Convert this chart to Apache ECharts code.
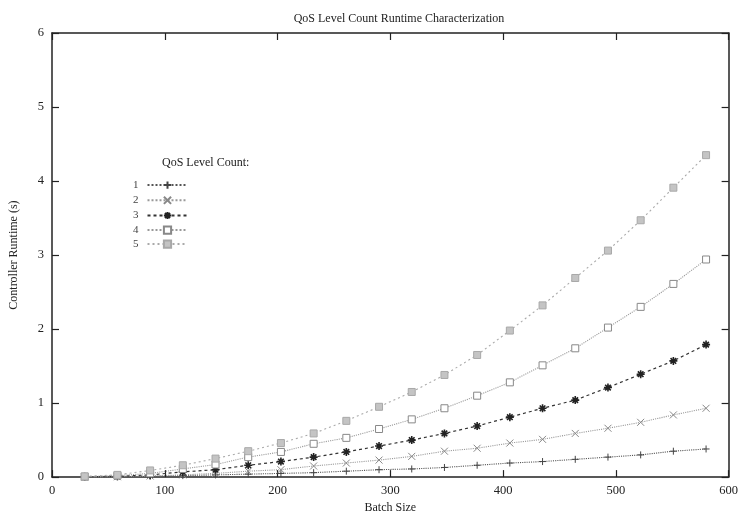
<!DOCTYPE html>
<html>
<head>
<meta charset="utf-8">
<script src="https://cdn.jsdelivr.net/npm/echarts@6/dist/echarts.min.js"></script>
<style>html,body{margin:0;padding:0;background:#fff;}#c{width:741px;height:519px;}</style>
</head>
<body>
<div id="c"></div>
<script>
const batchSizes = [29,58,87,116,145,174,203,232,261,290,319,348,377,406,435,464,493,522,551,580];
const level1 = [0.001,0.005,0.01,0.02,0.03,0.04,0.05,0.06,0.08,0.10,0.11,0.13,0.16,0.19,0.21,0.24,0.27,0.30,0.35,0.38];
const level2 = [0.002,0.005,0.015,0.03,0.05,0.08,0.10,0.15,0.19,0.23,0.28,0.35,0.39,0.46,0.51,0.59,0.66,0.74,0.84,0.93];
const level3 = [0.005,0.01,0.03,0.07,0.10,0.16,0.21,0.27,0.34,0.42,0.50,0.59,0.69,0.81,0.93,1.04,1.21,1.39,1.57,1.79];
const level4 = [0.005,0.02,0.05,0.11,0.17,0.27,0.34,0.45,0.53,0.65,0.78,0.93,1.10,1.28,1.51,1.74,2.02,2.30,2.61,2.94];
const level5 = [0.01,0.03,0.09,0.16,0.25,0.35,0.46,0.59,0.76,0.95,1.15,1.38,1.65,1.98,2.32,2.69,3.06,3.47,3.91,4.35];
const seriesNames = ['1','2','3','4','5'];
const xTicks = [0,100,200,300,400,500,600];
const yTicks = [0,1,2,3,4,5,6];

const FONT = '"Liberation Serif", "DejaVu Serif", serif';
const plusPath = 'path://M5 0 L5 10 M0 5 L10 5';
const crossPath = 'path://M0 0 L10 10 M10 0 L0 10';
const starPath = 'path://M5 0 L5 10 M0 5 L10 5 M1.5 1.5 L8.5 8.5 M8.5 1.5 L1.5 8.5';

const pairs = arr => batchSizes.map((x, i) => [x, arr[i]]);
const styles = [
  {data: level1, symbol: plusPath, size: 7, line: {color:'#555', type:'dotted', width:1.1}, item: {color:'none', borderColor:'#444', borderWidth:1}},
  {data: level2, symbol: crossPath, size: 7, line: {color:'#999', type:'dotted', width:1.1}, item: {color:'none', borderColor:'#888', borderWidth:1}},
  {data: level3, symbol: starPath, size: 8, line: {color:'#333', type:[3,3], width:1.2}, item: {color:'none', borderColor:'#222', borderWidth:1.6}},
  {data: level4, symbol: 'rect', size: 7, line: {color:'#999', type:'dotted', width:1.1}, item: {color:'#fff', borderColor:'#888', borderWidth:1}},
  {data: level5, symbol: 'rect', size: 7, line: {color:'#aaa', type:[2,3], width:1.1}, item: {color:'#c4c4c4', borderColor:'#a8a8a8', borderWidth:1}}
];

const axisCommon = {
  axisLine: {show: true, onZero: false, lineStyle: {color: '#222', width: 1.5}},
  axisTick: {show: true, inside: true, length: 7, lineStyle: {color: '#222', width: 1.2}},
  splitLine: {show: false}
};

const chart = echarts.init(document.getElementById('c'));
chart.setOption({
  animation: false,
  backgroundColor: '#fff',
  title: [
    {text: 'QoS Level Count Runtime Characterization', left: 394, textAlign: 'center', top: 8,
     textStyle: {fontFamily: FONT, fontSize: 12, fontWeight: 'normal', color: '#222'}},
    {text: 'QoS Level Count:', left: 157, top: 152,
     textStyle: {fontFamily: FONT, fontSize: 12, fontWeight: 'normal', color: '#222'}}
  ],
  legend: {
    orient: 'vertical', left: 128, top: 174, itemGap: 3, itemWidth: 40, itemHeight: 9,
    align: 'right',
    textStyle: {fontFamily: FONT, fontSize: 11, color: '#444', padding: [0, 4, 0, 0]},
    data: seriesNames
  },
  grid: {left: 52, right: 7, top: 33, bottom: 40, containLabel: false},
  xAxis: [
    Object.assign({type: 'value', min: 0, max: 600, interval: 100, name: 'Batch Size', nameLocation: 'middle', nameGap: 21,
     nameTextStyle: {fontFamily: FONT, fontSize: 12, color: '#222'},
     axisLabel: {fontFamily: FONT, fontSize: 12.5, color: '#222', margin: 7, formatter: v => xTicks.includes(v) ? String(v) : ''}}, axisCommon),
    Object.assign({type: 'value', position: 'top', min: 0, max: 600, interval: 100, axisLabel: {show: false}}, axisCommon)
  ],
  yAxis: [
    Object.assign({type: 'value', min: 0, max: 6, interval: 1, name: 'Controller Runtime (s)', nameLocation: 'middle', nameGap: 32,
     nameTextStyle: {fontFamily: FONT, fontSize: 12, color: '#222'},
     axisLabel: {fontFamily: FONT, fontSize: 12.5, color: '#222', margin: 8, formatter: v => yTicks.includes(v) ? String(v) : ''}}, axisCommon),
    Object.assign({type: 'value', position: 'right', min: 0, max: 6, interval: 1, axisLabel: {show: false}}, axisCommon)
  ],
  series: styles.map((s, i) => ({
    name: seriesNames[i], type: 'line', data: pairs(s.data), xAxisIndex: 0, yAxisIndex: 0,
    symbol: s.symbol, symbolSize: s.size, showAllSymbol: true,
    lineStyle: s.line, itemStyle: s.item
  }))
});
</script>
</body>
</html>
